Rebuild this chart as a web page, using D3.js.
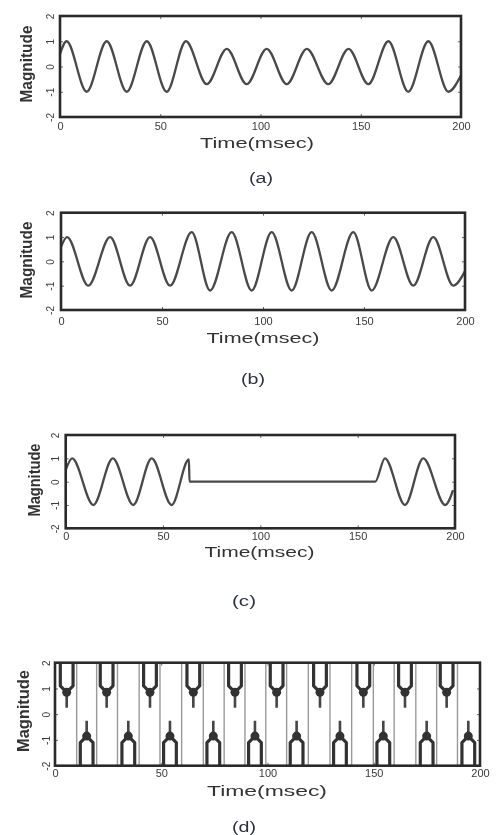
<!DOCTYPE html>
<html><head><meta charset="utf-8">
<script src="https://cdn.jsdelivr.net/npm/d3@7"></script>
<style>html,body{margin:0;padding:0;background:#fff;} svg{display:block;}</style>
</head><body>
<script>
// ---------- data ----------
const xTickValues = [0, 50, 100, 150, 200];
const xTickLabels = ["0", "50", "100", "150", "200"];
const yTickValues = [-2, -1, 0, 1, 2];
const yTickLabels = ["-2", "-1", "0", "1", "2"];
const xLabel = "Time(msec)";
const yLabel = "Magnitude";
const captions = ["(a)", "(b)", "(c)", "(d)"];

// (a) voltage sag: extrema of the waveform (time ms, magnitude)
const aTime  = [0, 3.3, 13.3, 23.3, 33.3, 43.3, 53.2, 62.8, 73.2, 83.2, 93.1, 103.1, 113.1, 123.1, 133.8, 143.9, 153.8, 163.8, 173.7, 183.7, 193.7, 200];
const aValue = [0.5, 1, -1, 1, -1, 1, -1, 1, -0.7, 0.7, -0.7, 0.7, -0.7, 0.7, -0.7, 0.7, -0.7, 1, -1, 1, -1, -0.35];

// (b) voltage swell
const bTime  = [0, 3, 13.5, 24.3, 34.2, 44.1, 54, 64.7, 73.8, 84.5, 94.4, 104.3, 114.2, 124.1, 134, 144.7, 153.8, 164.5, 174.4, 184.3, 194.2, 200];
const bValue = [0.6, 1, -1, 1, -1, 1, -1, 1.2, -1.2, 1.2, -1.2, 1.2, -1.2, 1.2, -1.2, 1.2, -1.2, 1, -1, 1, -1, -0.4];

// (c) interruption
const cTime  = [0, 3.3, 14.2, 24.2, 34.7, 44.2, 54.4, 63.3, 63.6, 159, 164, 174.3, 183.7, 195, 199];
const cValue = [0.5, 1, -1, 1, -1, 1, -1, 0.95, 0, 0, 1, -1, 1, -1, -0.36];

// (d) notching / spikes: lobe centres and lobe levels
const dUpperCenter = [5.5, 24.3, 44.7, 65.1, 84.7, 104.3, 124.7, 145.1, 164.7, 184.3];
const dLowerCenter = [14.9, 34.5, 54.1, 74.5, 94.1, 113.7, 134.1, 154.5, 174.9, 194.5];
const dLobeHalfWidth = 3.0;
const dLobeEdge = 1.1;
const dLobePeak = 0.85;
const dLobeTail = 0.25;

// ---------- layout ----------
const W = 496, H = 835;
const FONT = "'Liberation Sans', Arial, Helvetica, sans-serif";
const layouts = [
  {left: 60,   right: 461, top: 16,    bottom: 117,   xPad: 5.5, yPad: 6.4, xl: [257, 142.5], xlw: 114, cap: [261, 178], ml: [26.5, 64],  mlw: 77},
  {left: 61,   right: 465, top: 212.7, bottom: 310,   xPad: 7.3, yPad: 7.4, xl: [263, 337],   xlw: 113, cap: [253, 379], ml: [26.7, 260], mlw: 77},
  {left: 65.7, right: 455, top: 435,   bottom: 528.3, xPad: 4.2, yPad: 7,   xl: [259.5, 551.5], xlw: 110, cap: [244, 601], ml: [34, 480], mlw: 73},
  {left: 55,   right: 480, top: 662.7, bottom: 765.7, xPad: 3.5, yPad: 4.8, xl: [267, 790], xlw: 120, cap: [244, 827], ml: [23, 711],  mlw: 82}
];

const svg = d3.select("body").append("svg").attr("width", W).attr("height", H);
const defs = svg.append("defs");
defs.append("filter").attr("id", "soft")
  .attr("x", 0).attr("y", 0).attr("width", W).attr("height", H).attr("filterUnits", "userSpaceOnUse")
  .append("feGaussianBlur").attr("stdDeviation", 0.55);
const root = svg.append("g").attr("filter", "url(#soft)");
root.append("rect").attr("width", W).attr("height", H).attr("fill", "#fff");

function drawPanel(L, idx, drawData) {
  const g = root.append("g");
  const x = d3.scaleLinear().domain([0, 200]).range([L.left, L.right]);
  const y = d3.scaleLinear().domain([-2, 2]).range([L.bottom, L.top]);

  const clipId = "clip" + idx;
  defs.append("clipPath").attr("id", clipId).append("rect")
    .attr("x", L.left).attr("y", L.top).attr("width", L.right - L.left).attr("height", L.bottom - L.top);
  const plot = g.append("g").attr("clip-path", `url(#${clipId})`);
  drawData(plot, x, y);

  // axes
  const xa = d3.axisBottom(x).tickValues(xTickValues).tickFormat((d, i) => xTickLabels[i])
    .tickSizeInner(-3).tickSizeOuter(0).tickPadding(L.xPad);
  const xg = g.append("g").attr("transform", `translate(0,${L.bottom})`).call(xa);
  xg.select(".domain").remove();
  xg.selectAll("line").attr("stroke", "#666");
  xg.selectAll("text").attr("font-family", FONT).attr("font-size", 11).attr("fill", "#3a3a3a");

  const ya = d3.axisLeft(y).tickValues(yTickValues).tickFormat((d, i) => yTickLabels[i])
    .tickSizeInner(-3).tickSizeOuter(0);
  const yg = g.append("g").attr("transform", `translate(${L.left},0)`).call(ya);
  yg.select(".domain").remove();
  yg.selectAll("line").attr("stroke", "#666");
  yg.selectAll("text").attr("x", 0).attr("y", -L.yPad).attr("dy", 0)
    .attr("text-anchor", "middle").attr("transform", "rotate(-90)")
    .attr("font-family", FONT).attr("font-size", 10).attr("fill", "#3a3a3a");

  const ta = d3.axisTop(x).tickValues(xTickValues).tickFormat("").tickSizeInner(-3).tickSizeOuter(0);
  const tg = g.append("g").attr("transform", `translate(0,${L.top})`).call(ta);
  tg.select(".domain").remove(); tg.selectAll("line").attr("stroke", "#666");
  const ra = d3.axisRight(y).tickValues(yTickValues).tickFormat("").tickSizeInner(-3).tickSizeOuter(0);
  const rg = g.append("g").attr("transform", `translate(${L.right},0)`).call(ra);
  rg.select(".domain").remove(); rg.selectAll("line").attr("stroke", "#666");

  // frame
  g.append("rect").attr("x", L.left).attr("y", L.top)
    .attr("width", L.right - L.left).attr("height", L.bottom - L.top)
    .attr("fill", "none").attr("stroke", "#2b2b2b").attr("stroke-width", 2.6);

  // labels
  g.append("text").attr("x", L.xl[0]).attr("y", L.xl[1]).attr("dominant-baseline", "central")
    .attr("text-anchor", "middle").attr("font-family", FONT).attr("font-size", 15.5)
    .attr("textLength", L.xlw).attr("lengthAdjust", "spacingAndGlyphs")
    .attr("fill", "#333").text(xLabel);
  g.append("text").attr("transform", `translate(${L.ml[0]},${L.ml[1]}) rotate(-90)`)
    .attr("dominant-baseline", "central").attr("text-anchor", "middle")
    .attr("font-family", FONT).attr("font-size", 16).attr("font-weight", "bold")
    .attr("textLength", L.mlw).attr("lengthAdjust", "spacingAndGlyphs")
    .attr("fill", "#333").text(yLabel);
  g.append("text").attr("x", L.cap[0]).attr("y", L.cap[1]).attr("dominant-baseline", "central")
    .attr("text-anchor", "middle").attr("font-family", FONT).attr("font-size", 14)
    .attr("textLength", 24).attr("lengthAdjust", "spacingAndGlyphs")
    .attr("fill", "#2a3140").text(captions[idx]);
}

function waveDrawer(times, values) {
  return (plot, x, y) => {
    const pts = times.map((t, i) => [t, values[i]]);
    const line = d3.line().x(d => x(d[0])).y(d => y(d[1])).curve(d3.curveMonotoneX);
    plot.append("path").datum(pts).attr("d", line)
      .attr("fill", "none").attr("stroke", "#4a4a4a").attr("stroke-width", 2.3)
      .attr("stroke-linejoin", "round");
  };
}

function spikeDrawer(plot, x, y) {
  const centres = dUpperCenter.map(c => ({c, s: 1})).concat(dLowerCenter.map(c => ({c, s: -1})))
    .sort((p, q) => p.c - q.c);
  // thin grey transitions between consecutive lobes
  const mids = d3.pairs(centres).map(([p, q]) => (p.c + q.c) / 2);
  plot.selectAll("line.conn").data(mids).join("line").attr("class", "conn")
    .attr("x1", d => x(d)).attr("x2", d => x(d)).attr("y1", y(-2)).attr("y2", y(2))
    .attr("stroke", "#999").attr("stroke-width", 1.4);
  const line = d3.line().x(d => x(d[0])).y(d => y(d[1]));
  plot.selectAll("path.lobe").data(centres).join("path").attr("class", "lobe")
    .attr("d", p => line([
      [p.c - dLobeHalfWidth, 2 * p.s], [p.c - dLobeHalfWidth, dLobeEdge * p.s],
      [p.c, dLobePeak * p.s],
      [p.c + dLobeHalfWidth, dLobeEdge * p.s], [p.c + dLobeHalfWidth, 2 * p.s]
    ]))
    .attr("fill", "none").attr("stroke", "#333").attr("stroke-width", 3.2).attr("stroke-linejoin", "round");
  plot.selectAll("line.tail").data(centres).join("line").attr("class", "tail")
    .attr("x1", p => x(p.c)).attr("x2", p => x(p.c))
    .attr("y1", p => y(dLobePeak * p.s)).attr("y2", p => y(dLobeTail * p.s))
    .attr("stroke", "#444").attr("stroke-width", 2.6);
  plot.selectAll("circle.blob").data(centres).join("circle").attr("class", "blob")
    .attr("cx", p => x(p.c)).attr("cy", p => y(dLobePeak * p.s)).attr("r", 4.5)
    .attr("fill", "#333");
}

drawPanel(layouts[0], 0, waveDrawer(aTime, aValue));
drawPanel(layouts[1], 1, waveDrawer(bTime, bValue));
drawPanel(layouts[2], 2, waveDrawer(cTime, cValue));
drawPanel(layouts[3], 3, spikeDrawer);
</script>
</body></html>
